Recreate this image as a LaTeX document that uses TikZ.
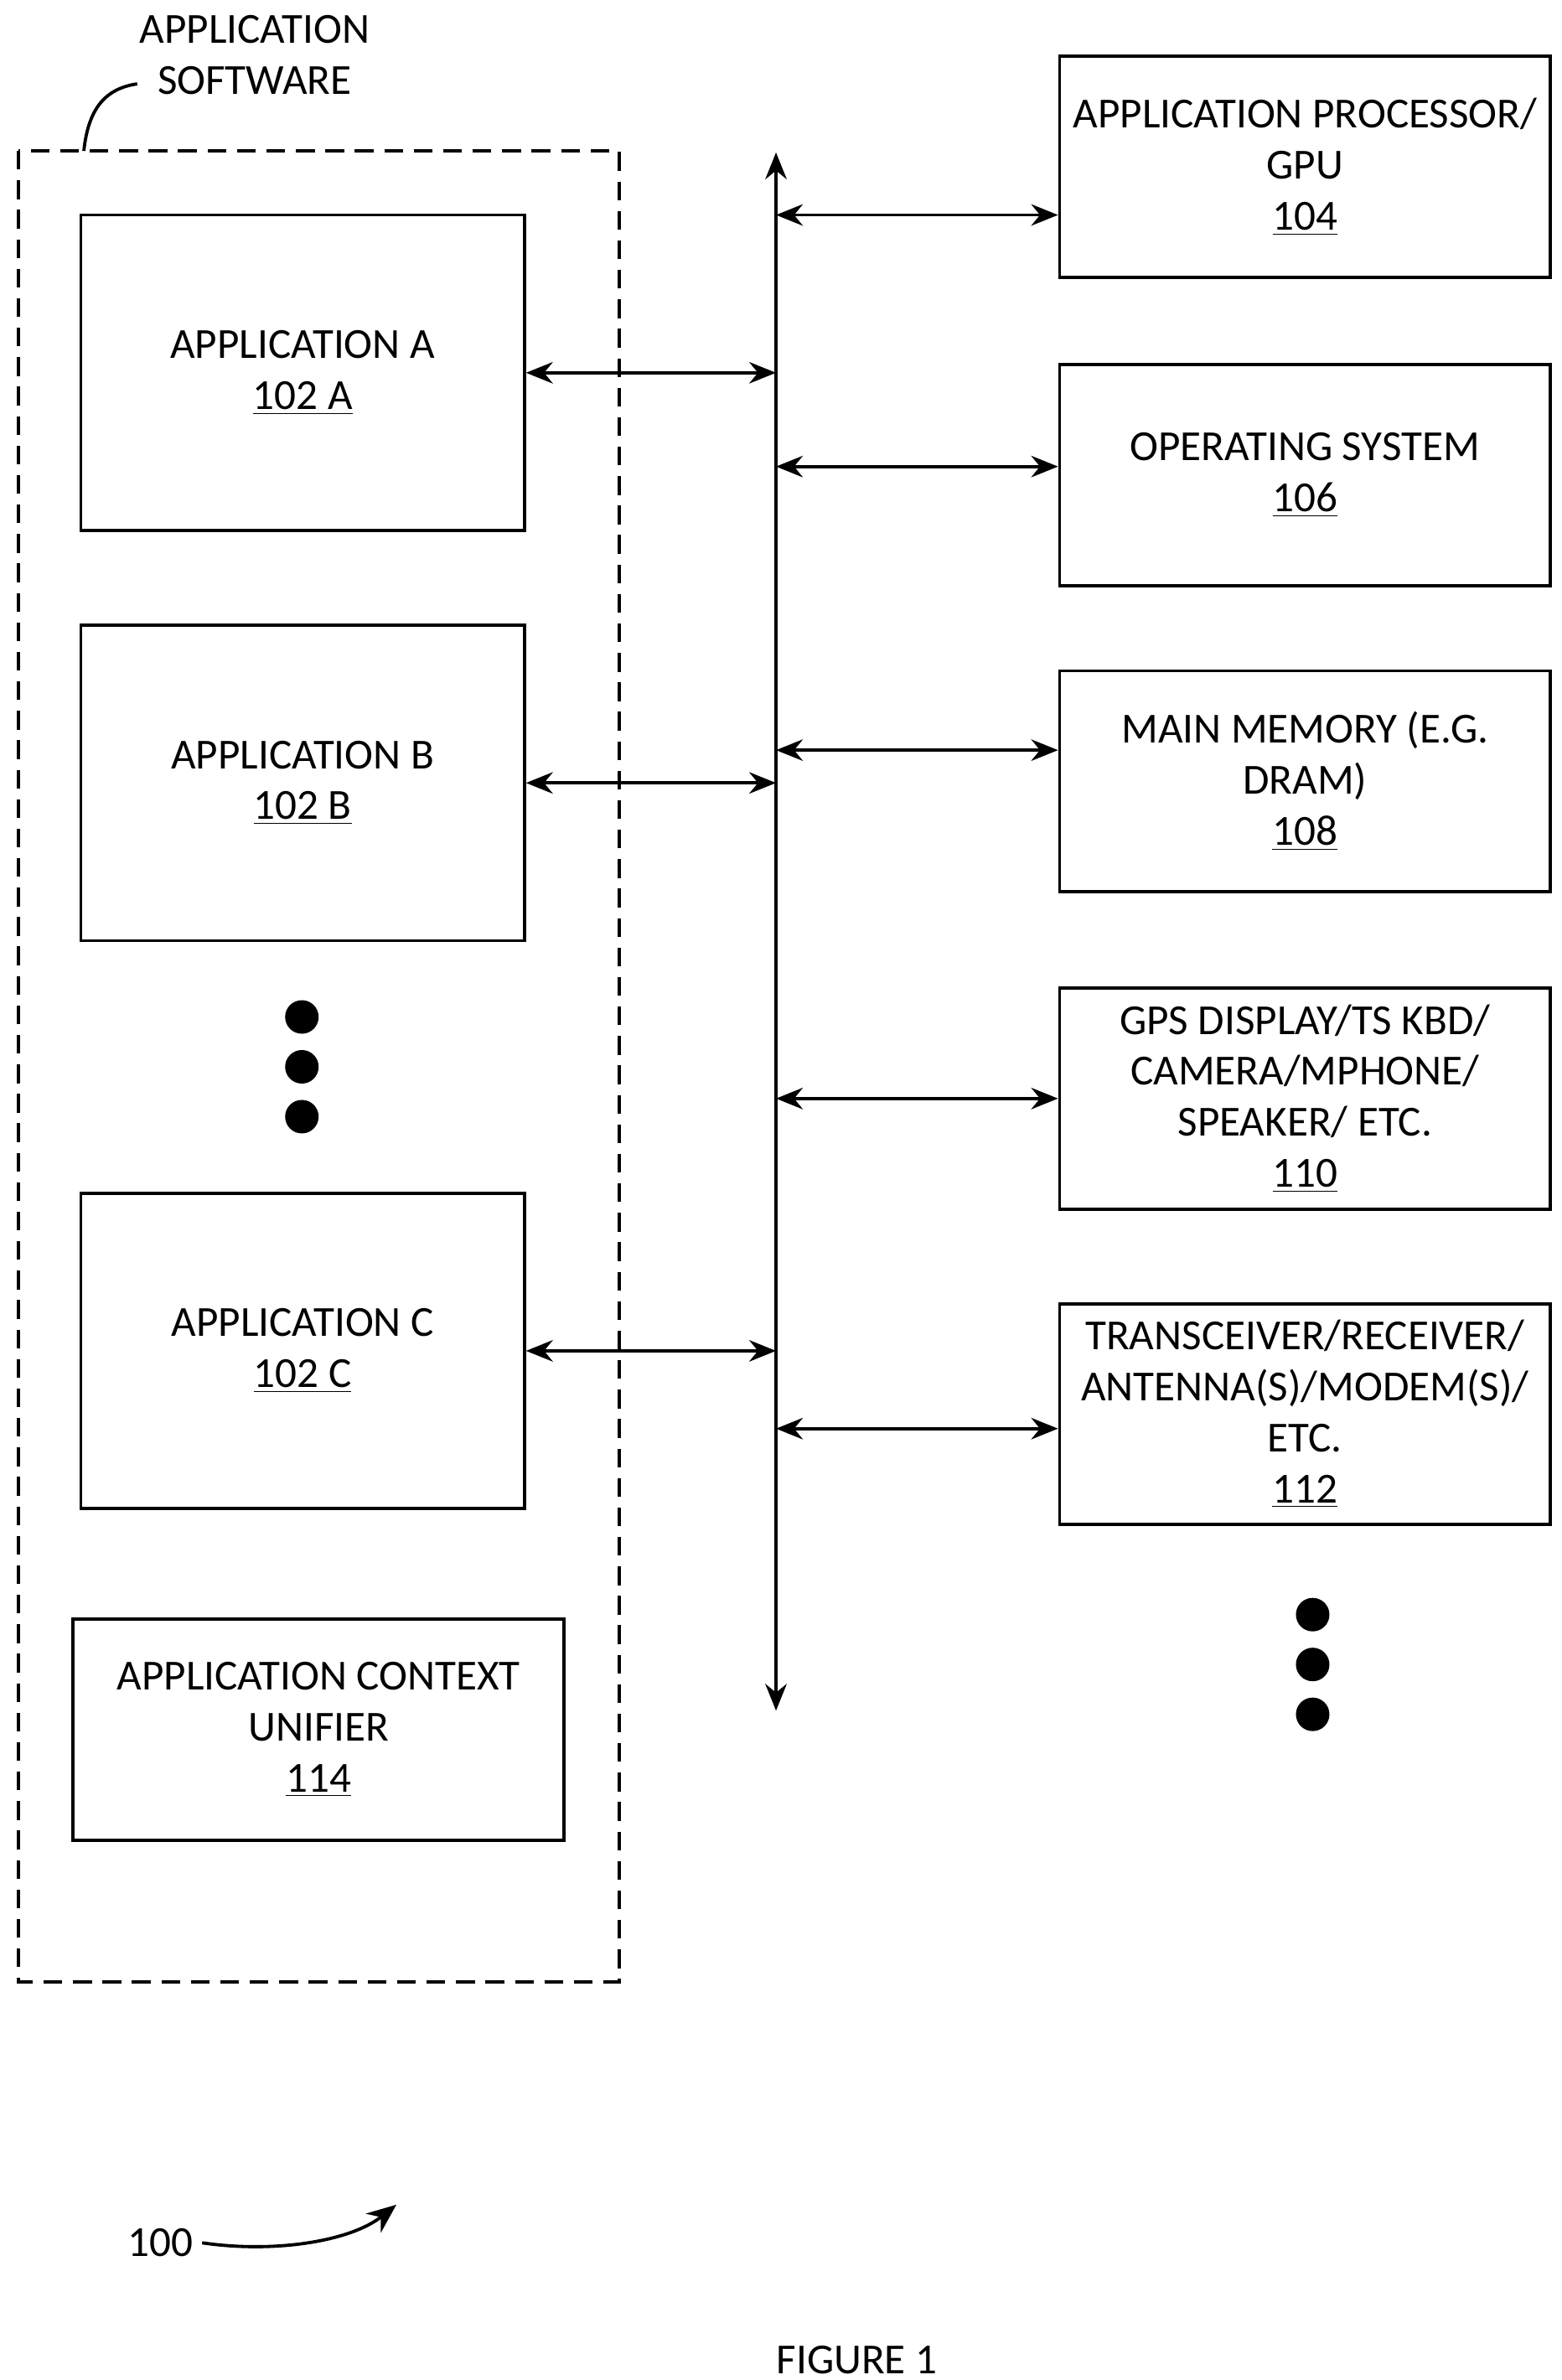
\documentclass[tikz,border=0pt]{standalone}
\usepackage{fontspec}
\setmainfont{Carlito}
\usetikzlibrary{positioning, calc, arrows.meta}
\tikzstyle{appbox}=[rectangle, draw, line width=1.2pt, minimum width=5.82cm, minimum height=4.14cm,
                    align=center, font=\fontsize{16}{19}\selectfont]
\tikzstyle{hwbox}=[rectangle, draw, line width=1.2pt, minimum width=6.44cm, minimum height=2.9cm,
                   align=center, font=\fontsize{16}{19}\selectfont]
\tikzstyle{link}=[line width=1.2pt, {Stealth[length=10pt, width=8pt]}-{Stealth[length=10pt, width=8pt]}]
\tikzstyle{dot}=[circle, fill=black, inner sep=0pt, minimum size=0.44cm]

\begin{document}
\begin{tikzpicture}[x=0.02cm, y=-0.02cm, font=\fontsize{16}{19}\selectfont]
  \useasboundingbox (0,0) rectangle (1024,1561);

  % Application software group
  \draw[line width=1.2pt, dash pattern=on 7pt off 4pt] (12,99) rectangle (406,1300);
  \node[align=center] (swlabel) at (167,36) {APPLICATION\\SOFTWARE};
  \draw[line width=1.2pt] (55,99) .. controls (58,70) and (70,58) .. (90,55);

  % Applications
  \node[appbox] (appA) at (198.5,244.5) {APPLICATION A\\\underline{102 A}};
  \node[appbox] (appB) at (198.5,513.5) {APPLICATION B\\\underline{102 B}};
  \node[appbox] (appC) at (198.5,886) {APPLICATION C\\\underline{102 C}};
  \node[dot] (d1) at (198,667) {};
  \node[dot, below = 0.2cm of d1] (d2) {};
  \node[dot, below = 0.2cm of d2] (d3) {};
  \node[appbox, minimum width=6.44cm, minimum height=2.9cm] (acu) at (209,1134.5)
       {APPLICATION CONTEXT\\UNIFIER\\\underline{114}};

  % Bus
  \coordinate (bustop) at (509,100);
  \coordinate (busbot) at (509,1122);
  \draw[link] (bustop) -- (busbot);

  % Hardware blocks
  \node[hwbox] (ap) at (856,109.5) {APPLICATION PROCESSOR/\\GPU\\\underline{104}};
  \node[hwbox] (os) at (856,311.5) {OPERATING SYSTEM\\\underline{106}};
  \node[hwbox] (mem) at (856,512.5) {MAIN MEMORY (E.G.\\DRAM)\\\underline{108}};
  \node[hwbox] (io) at (856,720.5) {GPS DISPLAY/TS KBD/\\CAMERA/MPHONE/\\SPEAKER/ ETC.\\\underline{110}};
  \node[hwbox] (trx) at (856,927.5) {TRANSCEIVER/RECEIVER/\\ANTENNA(S)/MODEM(S)/\\ETC.\\\underline{112}};
  \node[dot] (e1) at (861,1059) {};
  \node[dot, below = 0.2cm of e1] (e2) {};
  \node[dot, below = 0.2cm of e2] (e3) {};

  % Links to the bus
  \draw[link] (appA.east) -- (appA.east -| bustop);
  \draw[link] (appB.east) -- (appB.east -| bustop);
  \draw[link] (appC.east) -- (appC.east -| bustop);
  \draw[link] (ap.west |- 0,141) -- (bustop |- 0,141);
  \draw[link] (os.west |- 0,306) -- (bustop |- 0,306);
  \draw[link] (mem.west |- 0,492) -- (bustop |- 0,492);
  \draw[link] (io.west) -- (io.west -| bustop);
  \draw[link] (trx.west |- 0,937) -- (bustop |- 0,937);

  % Reference numeral and caption
  \node (ref) at (105,1471) {100};
  \coordinate (refend) at (260,1446);
  \draw[line width=1.2pt, -{Stealth[length=11pt, width=9pt]}] (ref.east) .. controls (180,1478) and (230,1470) .. (refend);
  \node (fig) at (562,1548) {FIGURE 1};
\end{tikzpicture}
\end{document}
